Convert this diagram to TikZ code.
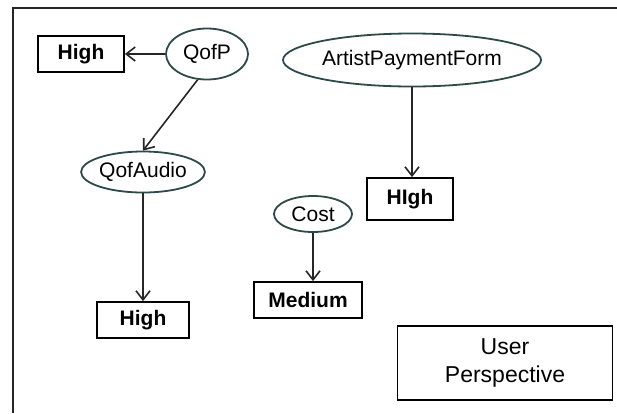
\documentclass[tikz,border=0pt]{standalone}
\usepackage{fontspec}
\setmainfont{Liberation Sans}
\usetikzlibrary{arrows.meta,shapes.geometric}
\definecolor{ovalline}{HTML}{2E4A48}
\tikzset{
  px/.style={x=1pt,y=-1pt},
  valbox/.style={draw=black, line width=1.8pt, rectangle, inner sep=0pt,
    font=\fontsize{21}{24}\selectfont\bfseries},
  attr/.style={draw=ovalline, line width=1.8pt, ellipse, inner sep=0pt,
    font=\fontsize{21}{24}\selectfont},
  link/.style={draw=black!85, line width=1.6pt,
    -{Straight Barb[length=9pt,width=14pt,line width=1.6pt]}},
}
\begin{document}
\begin{tikzpicture}[px]
  \useasboundingbox (0,0) rectangle (617,413);
  % outer frame (open to the right and bottom)
  \draw[line width=1.8pt, black!85] (13,413) -- (13,8) -- (617,8);

  % attribute ovals
  \node[attr, minimum width=82pt, minimum height=51pt] (qofp) at (207,54) {QofP};
  \node[attr, minimum width=122pt, minimum height=41pt] (qofaudio) at (143,172) {QofAudio};
  \node[attr, minimum width=258pt, minimum height=53pt] (apf) at (412,60) {ArtistPaymentForm};
  \node[attr, minimum width=78pt, minimum height=36pt] (cost) at (313,214) {Cost};

  % value boxes
  \node[valbox, minimum width=86pt, minimum height=36pt] (high1) at (81,54) {High};
  \node[valbox, minimum width=92pt, minimum height=36pt] (high2) at (143,320) {High};
  \node[valbox, minimum width=86pt, minimum height=42pt] (high3) at (410,199) {HIgh};
  \node[valbox, minimum width=108pt, minimum height=36pt] (medium) at (308,300) {Medium};

  % perspective label
  \node[draw=black, line width=1.8pt, minimum width=215pt, minimum height=74pt,
        align=center, font=\fontsize{23}{28}\selectfont] (persp) at (505,363)
        {User\\Perspective};

  % connectors
  \draw[link] (qofp.west) -- (high1.east);
  \draw[link] (qofp.250) -- (qofaudio.north);
  \draw[link] (qofaudio.south) -- (high2.north);
  \draw[link] (apf.south) -- (apf.south |- high3.north);
  \draw[link] (cost.south) -- (cost.south |- medium.north);
\end{tikzpicture}
\end{document}
